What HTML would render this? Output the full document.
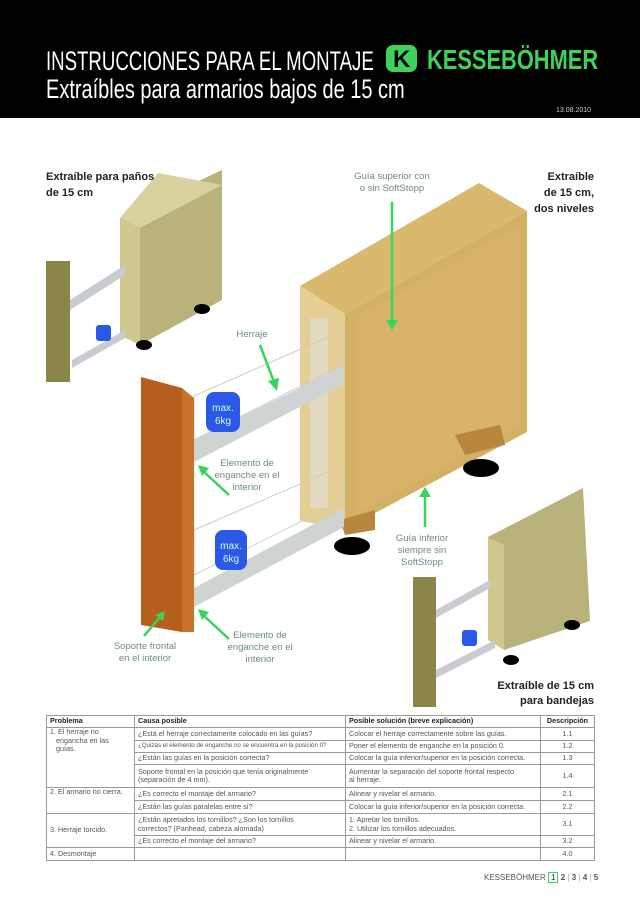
<!DOCTYPE html>
<html><head><meta charset="utf-8"><style>
body{margin:0;width:640px;height:906px;background:#fff;position:relative;overflow:hidden;font-family:"Liberation Sans",sans-serif}
.hd{position:absolute;left:0;top:0;width:640px;height:118px;background:#000}
.t{position:absolute;white-space:nowrap;transform-origin:0 0}
table{position:absolute;left:46px;top:715px;border-collapse:collapse;font-size:7.2px;color:#555;table-layout:fixed}
td,th{border:1px solid #999;padding:0 3px;vertical-align:middle;text-align:left;line-height:8.5px}
th{color:#222;font-weight:bold;height:11px}
td.c{text-align:center}
</style></head><body>
<div class="hd"></div>
<div class="t" style="left:46px;top:46px;color:#fff;font-size:27px;transform:scaleX(0.69)">INSTRUCCIONES PARA EL MONTAJE</div>
<div class="t" style="left:46px;top:74px;color:#fff;font-size:27px;transform:scaleX(0.74)">Extraíbles para armarios bajos de 15 cm</div>
<div style="position:absolute;left:386px;top:45px;width:31px;height:27px;background:#3fd25a;border-radius:7px"></div>
<div class="t" style="left:393px;top:46px;color:#000;font-size:24px;font-weight:bold">K</div>
<div class="t" style="left:427px;top:44px;color:#3fd25a;font-size:28px;font-weight:bold;transform:scaleX(0.78)">KESSEBÖHMER</div>
<div class="t" style="left:556px;top:107px;color:#ccc;font-size:7px">13.08.2010</div>

<svg style="position:absolute;left:0;top:0" width="640" height="906">
<g font-family="Liberation Sans,sans-serif">
<polygon points="120,218 222,170 222,300 140,345 120,335" fill="#b9b27a"/>
<polygon points="120,218 140,228 140,345 120,335" fill="#cfc88e"/>
<polygon points="120,218 158,173 222,185 140,228" fill="#d8d2a0"/>
<polygon points="70,300 125,265 125,275 70,310" fill="#c8ccd0"/>
<polygon points="72,360 125,330 125,338 72,368" fill="#c8ccd0"/>
<rect x="46" y="261" width="24" height="121" fill="#8c8548"/>
<ellipse cx="144" cy="345" rx="8" ry="5" fill="#000"/><ellipse cx="202" cy="309" rx="8" ry="5" fill="#000"/>
<rect x="96" y="325" width="15" height="16" rx="3" fill="#2b58e6"/>
<polygon points="300,286 479,183 527,211 345,314" fill="#d8b96e"/>
<polygon points="345,314 527,211 527,432 345,529" fill="#d2b064"/>
<polygon points="300,286 345,314 345,529 300,521" fill="#e6cf94"/>
<polygon points="355,318 520,225 520,425 355,515" fill="#d8b66a" opacity="0.6"/>
<rect x="310" y="318" width="18" height="190" fill="#e0dccb" opacity="0.8"/>
<polygon points="455,435 500,425 505,445 465,455" fill="#b9863e"/>
<polygon points="340,520 375,510 375,530 345,535" fill="#b9863e"/>
<ellipse cx="352" cy="546" rx="18" ry="9" fill="#000"/><ellipse cx="481" cy="468" rx="18" ry="9" fill="#000"/>
<polygon points="194,396 344,330 344,364 194,440" fill="none" stroke="#ccc" stroke-width="1"/>
<polygon points="194,440 344,366 344,384 194,462" fill="#d0d3d3"/>
<polygon points="194,530 344,465 344,500 194,575" fill="none" stroke="#ccc" stroke-width="1"/>
<polygon points="194,588 344,508 344,527 194,607" fill="#d0d3d3"/>
<rect x="206" y="392" width="34" height="40" rx="8" fill="#2b58e6"/>
<text x="223" y="411" fill="#cfe" font-size="10" text-anchor="middle">max.</text><text x="223" y="424" fill="#cfe" font-size="10" text-anchor="middle">6kg</text>
<rect x="215" y="530" width="32" height="40" rx="8" fill="#2b58e6"/>
<text x="231" y="549" fill="#cfe" font-size="10" text-anchor="middle">max.</text><text x="231" y="562" fill="#cfe" font-size="10" text-anchor="middle">6kg</text>
<polygon points="141,377 182,388 182,632 141,625" fill="#b65e1c"/>
<polygon points="182,388 194,398 194,632 182,632" fill="#c8732c"/>
<polygon points="488,537 583,488 590,621 504,650" fill="#b9b27a"/>
<polygon points="488,537 504,545 504,650 488,640" fill="#cfc88e"/>
<polygon points="436,610 490,580 490,588 436,618" fill="#c8ccd0"/>
<polygon points="436,670 495,640 495,648 436,678" fill="#c8ccd0"/>
<rect x="413" y="577" width="23" height="130" fill="#8c8548"/>
<rect x="462" y="630" width="15" height="16" rx="3" fill="#2b58e6"/>
<ellipse cx="511" cy="660" rx="8" ry="5" fill="#000"/><ellipse cx="572" cy="625" rx="8" ry="5" fill="#000"/>
<g stroke="#3ad45a" stroke-width="2.5" fill="#3ad45a">
<line x1="392" y1="202" x2="392" y2="322"/><polygon points="386,320 398,320 392,330" stroke="none"/>
<line x1="260" y1="345" x2="274" y2="382"/><polygon points="268,381 279,378 277,391" stroke="none"/>
<line x1="229" y1="495" x2="203" y2="471"/><polygon points="198,465 209,468 202,476" stroke="none"/>
<line x1="425" y1="527" x2="425" y2="495"/><polygon points="419,497 431,497 425,487" stroke="none"/>
<line x1="144" y1="636" x2="160" y2="617"/><polygon points="165,611 163,621 155,615" stroke="none"/>
<line x1="229" y1="639" x2="203" y2="615"/><polygon points="198,609 209,612 202,620" stroke="none"/>
</g>
<g fill="#6e8a82" font-size="9.5" text-anchor="middle">
<text x="392" y="179">Guía superior con</text><text x="392" y="191">o sin SoftStopp</text>
<text x="252" y="337">Herraje</text>
<text x="247" y="466">Elemento de</text><text x="247" y="478">enganche en el</text><text x="247" y="490">interior</text>
<text x="422" y="541">Guía inferior</text><text x="422" y="553">siempre sin</text><text x="422" y="565">SoftStopp</text>
<text x="145" y="649">Soporte frontal</text><text x="145" y="661">en el interior</text>
<text x="260" y="638">Elemento de</text><text x="260" y="650">enganche en el</text><text x="260" y="662">interior</text>
</g>
<g fill="#222" font-size="11" font-weight="bold">
<text x="46" y="180">Extraíble para paños</text><text x="46" y="196">de 15 cm</text>
<text x="594" y="180" text-anchor="end">Extraíble</text><text x="594" y="196" text-anchor="end">de 15 cm,</text><text x="594" y="212" text-anchor="end">dos niveles</text>
<text x="594" y="689" text-anchor="end">Extraíble de 15 cm</text><text x="594" y="704" text-anchor="end">para bandejas</text>
</g>
</g></svg>

<table>
<colgroup><col style="width:88px"><col style="width:211px"><col style="width:195px"><col style="width:54px"></colgroup>
<tr><th>Problema</th><th>Causa posible</th><th>Posible solución (breve explicación)</th><th style="text-align:center">Descripción</th></tr>
<tr style="height:13px"><td rowspan="4" style="vertical-align:top">1. El herraje no<br>&nbsp;&nbsp;&nbsp;engancha en las<br>&nbsp;&nbsp;&nbsp;guías.</td><td>¿Está el herraje correctamente colocado en las guías?</td><td>Colocar el herraje correctamente sobre las guías.</td><td class="c">1.1</td></tr>
<tr style="height:12px"><td style="font-size:6.2px">¿Quizás el elemento de enganche no se encuentra en la posición 0?</td><td>Poner el elemento de enganche en la posición 0.</td><td class="c">1.2</td></tr>
<tr style="height:12px"><td>¿Están las guías en la posición correcta?</td><td>Colocar la guía inferior/superior en la posición correcta.</td><td class="c">1.3</td></tr>
<tr style="height:23px"><td>Soporte frontal en la posición que tenía originalmente<br>(separación de 4 mm).</td><td>Aumentar la separación del soporte frontal respecto<br>al herraje.</td><td class="c">1.4</td></tr>
<tr style="height:13px"><td rowspan="2" style="vertical-align:top">2. El armario no cierra.</td><td>¿Es correcto el montaje del armario?</td><td>Alinear y nivelar el armario.</td><td class="c">2.1</td></tr>
<tr style="height:13px"><td>¿Están las guías paralelas entre sí?</td><td>Colocar la guía inferior/superior en la posición correcta.</td><td class="c">2.2</td></tr>
<tr style="height:22px"><td rowspan="2">3. Herraje torcido.</td><td>¿Están apretados los tornillos? ¿Son los tornillos<br>correctos? (Panhead, cabeza alomada)</td><td>1. Apretar los tornillos.<br>2. Utilizar los tornillos adecuados.</td><td class="c">3.1</td></tr>
<tr style="height:12px"><td>¿Es correcto el montaje del armario?</td><td>Alinear y nivelar el armario.</td><td class="c">3.2</td></tr>
<tr style="height:13px"><td>4. Desmontaje</td><td></td><td></td><td class="c">4.0</td></tr>
</table>
<div class="t" style="left:484px;top:873px;font-size:8px;color:#555">KESSEBÖHMER <span style="border:1px solid #3ad45a;padding:0 2px;color:#333">1</span> <b>2</b> <span style="color:#aaa">|</span> <b>3</b> <span style="color:#aaa">|</span> <b>4</b> <span style="color:#aaa">|</span> <b>5</b></div>
</body></html>
